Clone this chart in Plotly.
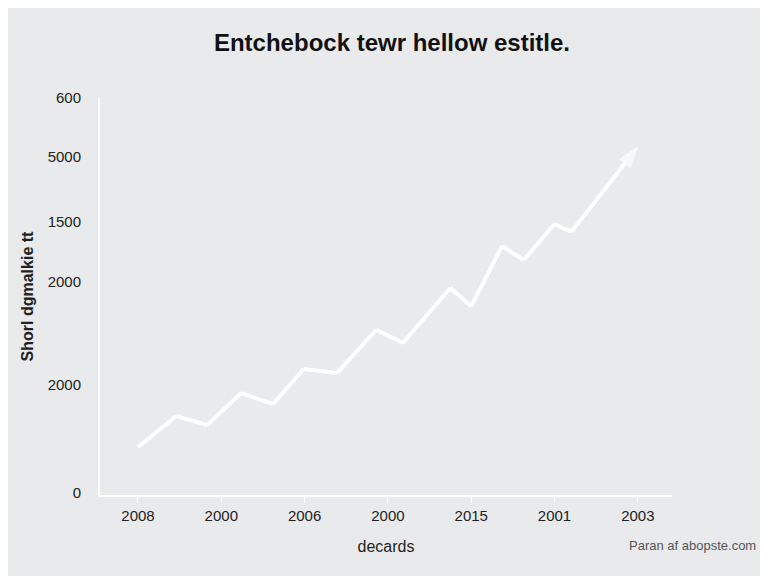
import plotly.graph_objects as go

# --- Data (x in tick-slot units, y in % of axis height) ---
x_vals = [0, 0.46, 0.83, 1.24, 1.62, 1.99, 2.39, 2.86, 3.18, 3.75, 4.0, 4.37, 4.63, 5.0, 5.2, 6.0]
y_vals = [11.6, 19.5, 17.2, 25.3, 22.5, 31.4, 30.4, 41.3, 38.0, 51.9, 47.3, 62.5, 59.0, 68.1, 66.1, 87.6]
x_ticks = ["2008", "2000", "2006", "2000", "2015", "2001", "2003"]
y_tickvals = [0, 27.3, 53.5, 68.6, 85.1, 100]
y_ticktext = ["0", "2000", "2000", "1500", "5000", "600"]

sizes = [0] * (len(x_vals) - 1) + [22]

fig = go.Figure()
fig.add_trace(go.Scatter(
    x=x_vals, y=y_vals, mode='lines+markers',
    line=dict(color='white', width=4),
    marker=dict(symbol='arrow', angleref='previous', size=sizes, color='white'),
    showlegend=False,
))

fig.update_layout(
    width=768, height=576,
    paper_bgcolor='#e9eaec', plot_bgcolor='#e9eaec',
    margin=dict(l=92, r=104, t=90, b=89),
    font=dict(family='Liberation Sans, Arial', color='#222', size=15),
    title=dict(text='<b>Entchebock tewr hellow estitle.</b>', x=0.5, y=0.955,
               xanchor='center', font=dict(size=24, color='#111')),
    xaxis=dict(range=[-0.456, 6.41], tickvals=list(range(len(x_ticks))), ticktext=x_ticks,
               showgrid=False, zeroline=False, showline=True, linecolor='white', linewidth=2,
               ticks='outside', tickcolor='white', ticklen=6,
               title=dict(text='decards', font=dict(size=16), standoff=18)),
    yaxis=dict(range=[-0.5, 100], tickvals=y_tickvals, ticktext=y_ticktext,
               showgrid=False, zeroline=False, showline=True, linecolor='white', linewidth=2,
               ticks='', ticklabelstandoff=14,
               title=dict(text='<b>Shorl dgmalkie tt</b>', font=dict(size=16), standoff=10)),
)
fig.add_annotation(text='Paran af abopste.com', xref='paper', yref='paper', x=1.15, y=-0.15,
                   xanchor='right', showarrow=False, font=dict(size=13, color='#555'))

fig.write_html("out.html")
